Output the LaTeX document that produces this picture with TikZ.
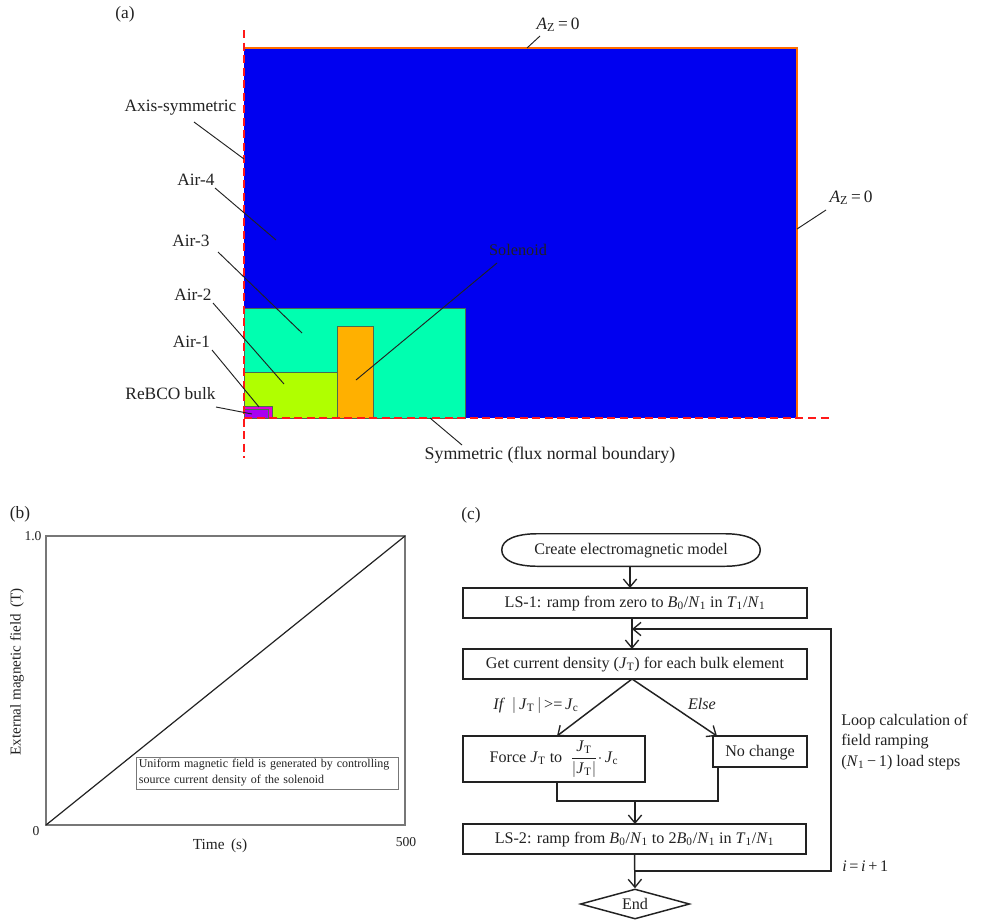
\documentclass[tikz,border=0pt]{standalone}
\usepackage{fontspec}
\setmainfont{Liberation Serif}
\usetikzlibrary{arrows.meta,shapes.geometric}
\definecolor{ink}{HTML}{222222}
\definecolor{bluezone}{HTML}{0000F0}
\definecolor{air3c}{HTML}{00FFB0}
\definecolor{air2c}{HTML}{B0FF00}
\definecolor{solc}{HTML}{FFB000}
\definecolor{air1c}{HTML}{E000D8}
\definecolor{bulkc}{HTML}{A800F0}
\definecolor{edgec}{HTML}{4A6A50}
\definecolor{frame}{HTML}{777777}
\newcommand{\JT}{\textit{J}\textsubscript{T}}
\newcommand{\Jc}{\textit{J}\textsubscript{c}}
\newcommand{\BN}{\textit{B}\textsubscript{0}/\textit{N}\textsubscript{1}}
\newcommand{\TN}{\textit{T}\textsubscript{1}/\textit{N}\textsubscript{1}}
\newcommand{\Az}{\textit{A}\textsubscript{Z}\,=\,0}
\tikzset{
  lab/.style={text=ink,inner sep=0pt,font=\fontsize{12.1}{14.5}\selectfont},
  biglab/.style={lab,font=\fontsize{13}{15}\selectfont},
  leader/.style={draw=ink,line width=0.7pt},
  zone/.style={draw=edgec,line width=0.7pt},
  flowbox/.style={draw=ink,line width=1.1pt,rectangle,inner sep=0pt,text=ink,font=\fontsize{12.1}{14.5}\selectfont},
  oneline/.style={text height=9.5pt,text depth=2.7pt},
  flow/.style={draw=ink,line width=1.1pt},
  flowarrow/.style={flow,-{Straight Barb[length=6pt,width=10pt,line width=1pt]}},
  redaxis/.style={draw=red!90!white,line width=1.5pt,dash pattern=on 6pt off 3.4pt}
}
\begin{document}
\begin{tikzpicture}[x=0.75pt,y=-0.75pt]
\useasboundingbox (0,0) rectangle (988,921);
\fill[white] (0,0) rectangle (988,921);
% panel a
\node[biglab] (pa) at (125,14) {(a)};
\fill[bluezone] (244,48) rectangle (797,418);
\draw[draw=orange!85!red,line width=2.2pt] (244,48) -- (797,48) -- (797,418);
\draw[zone,fill=air3c] (244,308) rectangle (465,418);
\draw[zone,fill=air2c] (244,372) rectangle (337,418);
\draw[zone,fill=solc] (337,326) rectangle (373,418);
\draw[zone,fill=air1c] (244,406) rectangle (272,418);
\draw[zone,fill=bulkc] (244,409) rectangle (268,418);
\draw[redaxis] (244,30) -- (244,458);
\draw[redaxis] (244,418) -- (830,418);
\node[biglab] (laxis) at (180.5,108) {Axis-symmetric};
\node[biglab] (lair4) at (196,180) {Air-4};
\node[biglab] (lair3) at (191,241) {Air-3};
\node[biglab] (lair2) at (193,295) {Air-2};
\node[biglab] (lair1) at (191.5,342) {Air-1};
\node[biglab] (lbulk) at (170.5,394) {ReBCO bulk};
\node[lab,font=\fontsize{12.2}{15}\selectfont] (lsol) at (518,250) {Solenoid};
\node[biglab] (ltop) at (558,25) {\Az};
\node[biglab] (lright) at (851,198) {\Az};
\node[biglab,font=\fontsize{13.4}{15}\selectfont] (lsym) at (550,455) {Symmetric (flux normal boundary)};
\coordinate (saxis) at (194,122);
\coordinate (eaxis) at (244,159);
\coordinate (sair4) at (215,188);
\coordinate (eair4) at (276,240);
\coordinate (sair3) at (218,252);
\coordinate (eair3) at (302,333);
\coordinate (sair2) at (213,303);
\coordinate (eair2) at (284,384);
\coordinate (sair1) at (212,350);
\coordinate (eair1) at (259,407);
\coordinate (sbulk) at (216,407);
\coordinate (ebulk) at (252,414);
\coordinate (ssol) at (497,263);
\coordinate (esol) at (356,380);
\coordinate (stop) at (540,36);
\coordinate (etop) at (527,48);
\coordinate (sright) at (826,210);
\coordinate (eright) at (797,229);
\coordinate (ssym) at (462,445);
\coordinate (esym) at (430,418);
\draw[leader] (saxis) -- (eaxis);
\draw[leader] (sair4) -- (eair4);
\draw[leader] (sair3) -- (eair3);
\draw[leader] (sair2) -- (eair2);
\draw[leader] (sair1) -- (eair1);
\draw[leader] (sbulk) -- (ebulk);
\draw[leader] (ssol) -- (esol);
\draw[leader] (stop) -- (etop);
\draw[leader] (sright) -- (eright);
\draw[leader] (ssym) -- (esym);
% panel b
\node[biglab] (pb) at (20,514) {(b)};
\coordinate (o) at (46,825);
\coordinate (t) at (405,536);
\draw[draw=frame,line width=1pt] (o) rectangle (t);
\draw[draw=ink,line width=0.9pt] (o) -- (t);
\node[lab,fill=white,draw=frame,line width=0.6pt,align=left,minimum height=24pt,inner xsep=1.5pt,font=\fontsize{9}{12}\selectfont,text=ink,text width=193pt] (note) at (267.5,773) {Uniform magnetic field is generated by controlling\\source current density of the solenoid};
\node[lab,font=\fontsize{10.2}{12}\selectfont] (y1) at (33,536) {1.0};
\node[lab,font=\fontsize{10.2}{12}\selectfont] (y0) at (36,831) {0};
\node[lab,font=\fontsize{10.2}{12}\selectfont] (x5) at (406,842) {500};
\node[lab,font=\fontsize{11.5}{13}\selectfont] (xl) at (220,846) {Time\, (s)};
\node[lab,font=\fontsize{11.3}{13}\selectfont,rotate=90] (yl) at (17,672) {External magnetic field\, (T)};
% panel c
\node[biglab] (pc) at (471,515) {(c)};
\node[lab,oneline,minimum width=193.5pt,minimum height=24pt] (create) at (631,550) {Create electromagnetic model};
\draw[flow] (create.west) .. controls ([yshift=8pt]create.west) and ([xshift=-86pt]create.north) .. ([xshift=-70pt]create.north) -- ([xshift=70pt]create.north) .. controls ([xshift=86pt]create.north) and ([yshift=8pt]create.east) .. (create.east) .. controls ([yshift=-8pt]create.east) and ([xshift=86pt]create.south) .. ([xshift=70pt]create.south) -- ([xshift=-70pt]create.south) .. controls ([xshift=-86pt]create.south) and ([yshift=-8pt]create.west) .. (create.west) -- cycle;
\node[flowbox,oneline,minimum width=258pt,minimum height=22.5pt] (ls1) at (635,603) {LS-1: ramp from zero to \BN{} in \TN};
\node[flowbox,oneline,minimum width=258pt,minimum height=22.5pt] (get) at (635,664) {Get current density (\JT) for each bulk element};
\node[flowbox,minimum width=136.5pt,minimum height=34.5pt] (force) at (554,759) {Force \JT{} to \ $\displaystyle{\hbox{\JT}\over\hbox{$|$\JT$|$}}\cdot$\,\Jc};
\node[flowbox,oneline,minimum width=70.5pt,minimum height=23pt] (nochg) at (760,751.5) {No change};
\node[flowbox,oneline,minimum width=257pt,minimum height=22.5pt] (ls2) at (634.5,839) {LS-2: ramp from \BN{} to 2\BN{} in \TN};
\node[flowbox,diamond,aspect=3.67,minimum width=82pt,minimum height=22.5pt] (endn) at (635,904) {End};
\node[lab] (lif) at (536,705) {\textit{If} \,$|$\,\JT\,$|$\,>=\,\Jc};
\node[lab] (lelse) at (702,704) {\textit{Else}};
\node[lab,align=left,anchor=west] (lloop) at (841,742) {Loop calculation of\\[0.8pt]field ramping\\[0.8pt](\textit{N}\textsubscript{1}\,−\,1) load steps};
\node[lab,anchor=west] (li) at (842,866) {\textit{i}\,=\,\textit{i}\,+\,1};
\coordinate (a1) at (630,566);
\coordinate (a2) at (630,588);
\coordinate (b1) at (632,618);
\coordinate (b2) at (632,649);
\coordinate (loopin) at (632,629);
\coordinate (loopr) at (831,629);
\coordinate (loopb) at (831,871);
\coordinate (loopl) at (635,871);
\coordinate (g) at (632,679);
\coordinate (fa) at (557,736);
\coordinate (na) at (717,736);
\coordinate (fb) at (557,782);
\coordinate (fm) at (557,801);
\coordinate (nb) at (718,767);
\coordinate (nm) at (718,801);
\coordinate (mm) at (635,801);
\coordinate (l2t) at (635,824);
\draw[flowarrow] (a1) -- (a2);
\draw[flowarrow] (b1) -- (b2);
\draw[flowarrow] (loopl) -- (loopb) -- (loopr) -- (loopin);
\draw[flowarrow] (g) -- (fa);
\draw[flowarrow] (g) -- (na);
\draw[flow] (fb) -- (fm) -- (nm) -- (nb);
\draw[flowarrow] (mm) -- (l2t);
\draw[flowarrow] (ls2.south) -- (endn.north);
\end{tikzpicture}
\end{document}
